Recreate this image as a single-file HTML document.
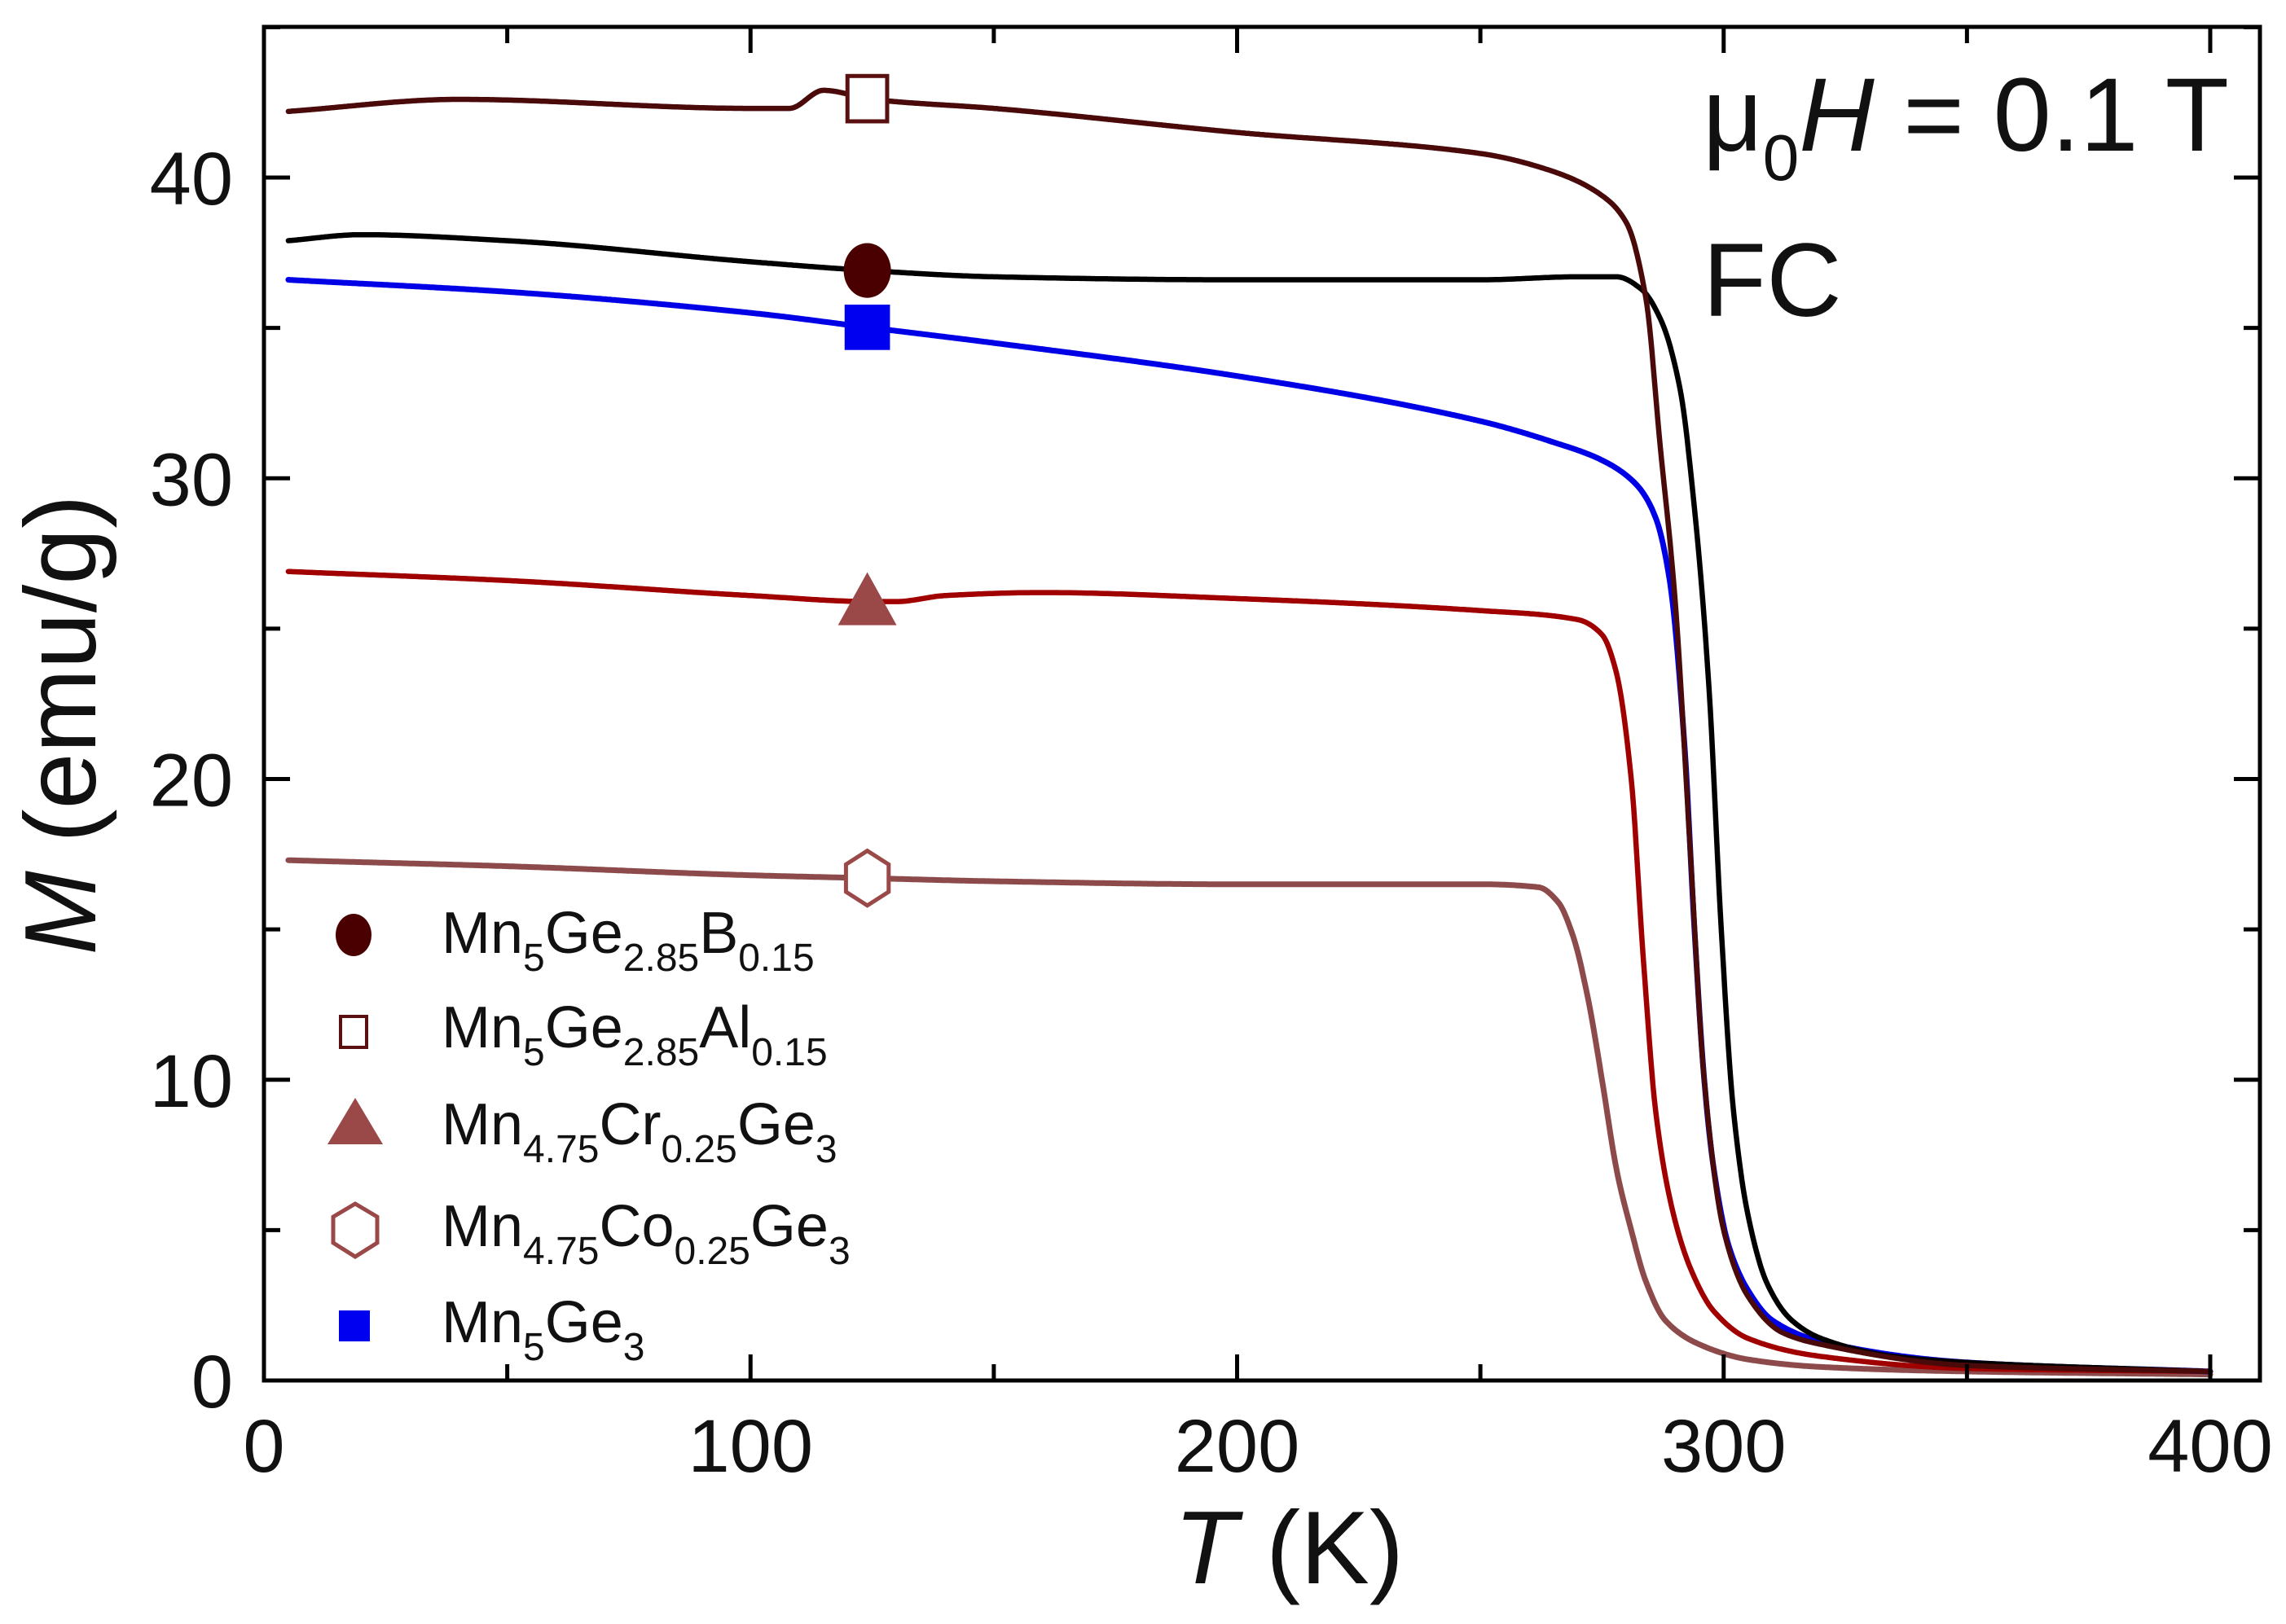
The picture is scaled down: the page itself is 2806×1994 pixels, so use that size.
<!DOCTYPE html>
<html><head><meta charset="utf-8"><style>
html,body{margin:0;padding:0;background:#fff;}
svg{display:block;}
text{font-family:"Liberation Sans",Arial,sans-serif;fill:#111;}
</style></head><body>
<svg id="chart" width="2806" height="1994" viewBox="0 0 2806 1994" xmlns="http://www.w3.org/2000/svg">
<g id="curves"></g>
<g id="markers"></g>
<g id="axes"></g>
<g id="labels"></g>
</svg>
<script>
// ---- data ----
const xTicks = [0, 100, 200, 300, 400];
const yTicks = [0, 10, 20, 30, 40];
const seriesNames = ["Mn5Ge2.85B0.15", "Mn5Ge2.85Al0.15", "Mn4.75Cr0.25Ge3", "Mn4.75Co0.25Ge3", "Mn5Ge3"];
const markerT = 124;

const tB  = [5,20,50,100,125,150,200,250,270,278,283,287,291,294,297,299.5,302,305,309,314,320,335,350,400];
const mB  = [37.9,38.1,37.9,37.2,36.9,36.7,36.6,36.6,36.7,36.7,36.3,35.3,33,29,23,15,9,5.5,3.2,2,1.4,0.8,0.6,0.3];

const tAl = [5,40,100,108,115,125,150,200,250,265,275,280,284,287,290,293,296,300,305,312,320,350,400];
const mAl = [42.2,42.6,42.3,42.3,42.9,42.6,42.3,41.5,40.8,40.2,39.4,38.5,36,31,26,18,10,5,2.8,1.6,1.2,0.5,0.3];

const tCr = [5,50,100,125,130,140,160,200,250,270,275,278,281,283.5,286,289,293,298,305,320,350,400];
const mCr = [26.9,26.6,26.1,25.9,25.9,26.1,26.2,26.0,25.6,25.3,24.8,23.5,20,14,9,6,3.8,2.3,1.4,0.8,0.4,0.3];

const tCo = [5,50,100,125,150,200,250,262,266,269,272,275,278,281,284,288,295,305,320,350,400];
const mCo = [17.3,17.1,16.8,16.7,16.6,16.5,16.5,16.4,15.9,14.8,12.8,10,7,5,3.3,2.0,1.2,0.7,0.45,0.3,0.2];

const tMn = [5,50,100,125,150,200,250,265,275,282,286,289,292,294,296,298,301,305,310,320,350,400];
const mMn = [36.6,36.2,35.5,35.0,34.5,33.4,31.9,31.2,30.6,29.8,28.7,26.5,21,15,10,7,4.5,3,2,1.3,0.6,0.3];

// ---- axes ----
const X0 = 324, X1 = 2774, Y0 = 1695, Y1 = 33;
const xpx = 5.9725, ypx = 36.925;
function xs(t){ return X0 + t * xpx; }
function ys(m){ return Y0 - m * ypx; }
const NS = "http://www.w3.org/2000/svg";
function mk(tag, parent, attrs){
  const e = document.createElementNS(NS, tag);
  for (const k in attrs) e.setAttribute(k, attrs[k]);
  parent.appendChild(e);
  return e;
}
// monotone cubic (Fritsch-Carlson) in data space
function monoFn(ts, ms){
  const n = ts.length, d = [], m = new Array(n);
  for (let i=0;i<n-1;i++) d.push((ms[i+1]-ms[i])/(ts[i+1]-ts[i]));
  m[0]=d[0]; m[n-1]=d[n-2];
  for (let i=1;i<n-1;i++){
    if (d[i-1]*d[i]<=0) m[i]=0;
    else { const w1=2*(ts[i+1]-ts[i])+(ts[i]-ts[i-1]), w2=(ts[i+1]-ts[i])+2*(ts[i]-ts[i-1]); m[i]=(w1+w2)/(w1/d[i-1]+w2/d[i]); }
  }
  return function(t){
    let i=0; while(i<n-2 && t>ts[i+1]) i++;
    const h=ts[i+1]-ts[i], s=(t-ts[i])/h;
    const h00=2*s*s*s-3*s*s+1, h10=s*s*s-2*s*s+s, h01=-2*s*s*s+3*s*s, h11=s*s*s-s*s;
    return h00*ms[i]+h10*h*m[i]+h01*ms[i+1]+h11*h*m[i+1];
  };
}
function pathFrom(ts, ms){
  const f = monoFn(ts, ms);
  let d = "";
  for (let t=ts[0]; t<=ts[ts.length-1]+1e-9; t+=0.25){
    d += (d?" L":"M") + xs(t).toFixed(1) + "," + ys(f(t)).toFixed(1);
  }
  return d;
}

const curves = document.getElementById("curves");
const series = [
  {t:tCo, m:mCo, color:"#8c4a4a", w:7, name:"curve-mn475co025ge3"},
  {t:tCr, m:mCr, color:"#a00000", w:6.5, name:"curve-mn475cr025ge3"},
  {t:tMn, m:mMn, color:"#0000e6", w:7, name:"curve-mn5ge3"},
  {t:tB,  m:mB,  color:"#000000", w:6.5, name:"curve-mn5ge285b015"},
  {t:tAl, m:mAl, color:"#4a0a0a", w:6.5, name:"curve-mn5ge285al015"}
];
series.forEach(s=>{
  const p = mk("path", curves, {d:pathFrom(s.t,s.m), fill:"none", stroke:s.color, "stroke-width":s.w, "stroke-linejoin":"round", "stroke-linecap":"round"});
  
  
});

// ---- markers ----
const markers = document.getElementById("markers");
function drawMarker(g, type, cx, cy, s){
  let e;
  if (type==="circle") e = mk("ellipse", g, {cx:cx, cy:cy, rx:s*0.5, ry:s*0.58, fill:"#4a0000"});
  else if (type==="osquare") e = mk("rect", g, {x:cx-s*0.42, y:cy-s*0.48, width:s*0.84, height:s*0.96, fill:"#fff", stroke:"#5a1010", "stroke-width":5});
  else if (type==="triangle") e = mk("polygon", g, {points:`${cx},${cy-s*0.62} ${cx-s*0.62},${cy+s*0.5} ${cx+s*0.62},${cy+s*0.5}`, fill:"#9a4848"});
  else if (type==="hexagon"){
    const r = s*0.58, pts=[];
    for (let k=0;k<6;k++){ const a = Math.PI/2 + k*Math.PI/3; pts.push((cx+r*0.9*Math.cos(a)).toFixed(1)+","+(cy+r*Math.sin(a)).toFixed(1)); }
    e = mk("polygon", g, {points:pts.join(" "), fill:"#fff", stroke:"#9a4848", "stroke-width":5});
  }
  else if (type==="square") e = mk("rect", g, {x:cx-s*0.48, y:cy-s*0.48, width:s*0.96, height:s*0.96, fill:"#0000f0"});
  return e;
}
const mkTypes = [["circle",tB,mB,"marker-b"],["osquare",tAl,mAl,"marker-al"],["triangle",tCr,mCr,"marker-cr"],["hexagon",tCo,mCo,"marker-co"],["square",tMn,mMn,"marker-mn5ge3"]];
mkTypes.forEach(([type,ts,ms,nm])=>{
  const e = drawMarker(markers, type, xs(markerT), ys(monoFn(ts,ms)(markerT)), 58);
  
  
});

// ---- axes frame & ticks ----
const axes = document.getElementById("axes");
const frame = mk("rect", axes, {x:X0, y:Y1, width:X1-X0, height:Y0-Y1, fill:"none", stroke:"#000", "stroke-width":5});


for (let t=0; t<=400; t+=50){
  const L = (t%100===0)?32:20;
  const x = xs(t);
  const a = mk("line", axes, {x1:x, y1:Y0, x2:x, y2:Y0-L, stroke:"#000", "stroke-width":5});
  
  
  const b = mk("line", axes, {x1:x, y1:Y1, x2:x, y2:Y1+L, stroke:"#000", "stroke-width":5});
  
  
}
for (let m=0; m<=45; m+=5){
  const L = (m%10===0)?32:20;
  const y = ys(m);
  if (y < Y1) continue;
  const a = mk("line", axes, {x1:X0, y1:y, x2:X0+L, y2:y, stroke:"#000", "stroke-width":5});
  
  
  const b = mk("line", axes, {x1:X1, y1:y, x2:X1-L, y2:y, stroke:"#000", "stroke-width":5});
  
  
}
const labels = document.getElementById("labels");
xTicks.forEach(t=>{
  const e = mk("text", labels, {x:xs(t), y:1807, "text-anchor":"middle", "font-size":92});
  e.textContent = t;
  
  
});
yTicks.forEach(m=>{
  const e = mk("text", labels, {x:286, y:ys(m)+33, "text-anchor":"end", "font-size":92});
  e.textContent = m;
  
  
});
</script>
<svg style="position:absolute;left:0;top:0" width="2806" height="1994" viewBox="0 0 2806 1994" xmlns="http://www.w3.org/2000/svg">
  <text x="1441" y="1944" font-size="127"><tspan font-style="italic">T</tspan> (K)</text>
  <text transform="translate(117,890) rotate(-90)" text-anchor="middle" font-size="124"><tspan font-style="italic">M</tspan> (emu/g)</text>
  <text x="2090" y="185" font-size="128">μ<tspan font-size="80" dy="36">0</tspan><tspan dy="-36" font-style="italic">H</tspan> = 0.1 T</text>
  <text x="2090" y="388" font-size="128">FC</text>
  <g font-size="72">
    <g>
      <ellipse cx="434" cy="1148" rx="22" ry="26" fill="#4a0000"/>
      <text x="542" y="1170">Mn<tspan font-size="48" dy="22">5</tspan><tspan dy="-22">Ge</tspan><tspan font-size="48" dy="22">2.85</tspan><tspan dy="-22">B</tspan><tspan font-size="48" dy="22">0.15</tspan></text>
    </g>
    <g>
      <rect x="418" y="1248" width="32" height="38" fill="#fff" stroke="#5a1010" stroke-width="4"/>
      <text x="542" y="1286">Mn<tspan font-size="48" dy="22">5</tspan><tspan dy="-22">Ge</tspan><tspan font-size="48" dy="22">2.85</tspan><tspan dy="-22">Al</tspan><tspan font-size="48" dy="22">0.15</tspan></text>
    </g>
    <g>
      <polygon points="436,1348 402,1405 470,1405" fill="#9a4848"/>
      <text x="542" y="1405">Mn<tspan font-size="48" dy="22">4.75</tspan><tspan dy="-22">Cr</tspan><tspan font-size="48" dy="22">0.25</tspan><tspan dy="-22">Ge</tspan><tspan font-size="48" dy="22">3</tspan></text>
    </g>
    <g>
      <polygon points="436,1478 463,1494 463,1526 436,1543 409,1526 409,1494" fill="#fff" stroke="#9a4848" stroke-width="5"/>
      <text x="542" y="1530">Mn<tspan font-size="48" dy="22">4.75</tspan><tspan dy="-22">Co</tspan><tspan font-size="48" dy="22">0.25</tspan><tspan dy="-22">Ge</tspan><tspan font-size="48" dy="22">3</tspan></text>
    </g>
    <g>
      <rect x="416" y="1609" width="38" height="38" fill="#0000f0"/>
      <text x="542" y="1648">Mn<tspan font-size="48" dy="22">5</tspan><tspan dy="-22">Ge</tspan><tspan font-size="48" dy="22">3</tspan></text>
    </g>
  </g>
</svg>
</body></html>
